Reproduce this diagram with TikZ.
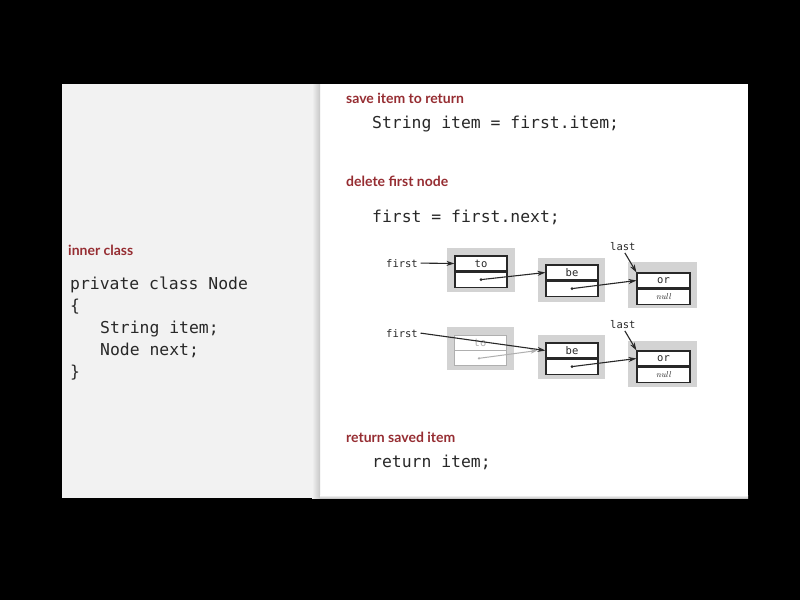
\documentclass[tikz,border=0pt]{standalone}
\usepackage{fontspec}
\setmonofont{DejaVu Sans Mono}
\newfontfamily\headfont{Lato}
\usetikzlibrary{arrows.meta}
\definecolor{headred}{RGB}{150,45,50}
\definecolor{leftbg}{RGB}{242,242,242}
\definecolor{nodebg}{RGB}{211,211,211}
\definecolor{ink}{RGB}{40,40,40}
\definecolor{faded}{RGB}{175,175,175}
\pgfdeclarelayer{panel}
\pgfdeclarelayer{boxes}
\pgfsetlayers{panel,boxes,main}
\begin{document}
\begin{tikzpicture}[x=1pt,y=-1pt,
  head/.style={anchor=base west,inner sep=0pt,text=headred,font=\headfont\bfseries\fontsize{14}{16}\selectfont},
  code/.style={anchor=base west,inner sep=0pt,text=ink,font=\ttfamily\fontsize{16.4}{20}\selectfont},
  lbl/.style={anchor=base west,inner sep=2.5pt,text=ink,font=\ttfamily\fontsize{10.5}{12}\selectfont},
  cell/.style={draw=ink,line width=1.1pt,fill=white,minimum width=52pt,minimum height=15pt,inner sep=0pt,text=ink,font=\ttfamily\fontsize{10.5}{12}\selectfont},
  fcell/.style={cell,draw=faded,line width=0.8pt,text=faded},
  ptr/.style={draw=ink,line width=1.1pt,-{Stealth[length=8pt,width=5pt]}},
  fptr/.style={draw=faded,line width=1pt,-{Stealth[length=7pt,width=4.5pt]}},
  dotc/.style={fill=ink},
  fdotc/.style={fill=faded},
]
\useasboundingbox (0,0) rectangle (800,600);
\begin{pgfonlayer}{panel}
\fill[black] (0,0) rectangle (800,600);
\fill[leftbg] (62,84) rectangle (320,498);
\fill[white] (320,84) rectangle (748,498);
\shade[left color=leftbg,right color=black!22] (312,84) rectangle (320,498);
\shade[top color=white,bottom color=black!22] (320,495) rectangle (748,498);
\end{pgfonlayer}

% left panel text
\node[head] (hinner) at (68,255) {inner class};
\node[code] (c1) at (70,289) {private class Node};
\node[code] (c2) at (70,311) {\{};
\node[code] (c3) at (100,333) {String item;};
\node[code] (c4) at (100,355) {Node next;};
\node[code] (c5) at (70,377) {\}};

% right panel text
\node[head] (hsave) at (346,103) {save item to return};
\node[code] (s1) at (372,128) {String item = first.item;};
\node[head] (hdel) at (346,186) {delete first node};
\node[code] (s2) at (372,222) {first = first.next;};
\node[head] (hret) at (346,442) {return saved item};
\node[code] (s3) at (372,467) {return item;};

% ---------- row 1 ----------
\node[cell] (i1) at (481,263.5) {to};
\node[cell,anchor=north] (n1) at (i1.south) {};
\node[cell] (i2) at (572,272.5) {be};
\node[cell,anchor=north] (n2) at (i2.south) {};
\node[cell,minimum width=53pt] (i3) at (663.5,280.5) {or};
\node[cell,minimum width=53pt,anchor=north] (n3) at (i3.south) {\rmfamily\itshape\fontsize{8.5}{10}\selectfont null};
\begin{pgfonlayer}{boxes}
\fill[nodebg] ([shift={(-7,-7)}]i1.north west) rectangle ([shift={(7,4)}]n1.south east);
\fill[nodebg] ([shift={(-7,-6)}]i2.north west) rectangle ([shift={(6,5)}]n2.south east);
\fill[nodebg] ([shift={(-8,-10)}]i3.north west) rectangle ([shift={(6,3)}]n3.south east);
\end{pgfonlayer}
\node[lbl] (f1) at (383.5,267) {first};
\node[lbl] (l1) at (607.5,250) {last};
\coordinate (d1) at (n1.center);
\coordinate (d2) at (n2.center);
\fill[dotc] (d1) circle (1.5);
\fill[dotc] (d2) circle (1.5);
\draw[ptr] (f1.east) -- (i1.west);
\draw[ptr] (d1) -- (i2.west);
\draw[ptr] (d2) -- (i3.west);
\draw[ptr] ([xshift=2pt]l1.south) -- (i3.north west);

% ---------- row 2 ----------
\node[fcell] (i4) at (480,342.5) {to};
\node[fcell,anchor=north] (n4) at (i4.south) {};
\node[cell] (i5) at (572,350.5) {be};
\node[cell,anchor=north] (n5) at (i5.south) {};
\node[cell,minimum width=53pt] (i6) at (663.5,358.5) {or};
\node[cell,minimum width=53pt,anchor=north] (n6) at (i6.south) {\rmfamily\itshape\fontsize{8.5}{10}\selectfont null};
\begin{pgfonlayer}{boxes}
\fill[nodebg] ([shift={(-7,-8)}]i4.north west) rectangle ([shift={(8,4)}]n4.south east);
\fill[nodebg] ([shift={(-7,-7)}]i5.north west) rectangle ([shift={(6,4)}]n5.south east);
\fill[nodebg] ([shift={(-8,-9)}]i6.north west) rectangle ([shift={(6,4)}]n6.south east);
\end{pgfonlayer}
\node[lbl] (f2) at (383.5,337) {first};
\node[lbl] (l2) at (607.5,328) {last};
\coordinate (d4) at ([xshift=-1pt]n4.center);
\coordinate (d5) at (n5.center);
\fill[fdotc] (d4) circle (1.3);
\fill[dotc] (d5) circle (1.5);
\draw[fptr] (d4) -- ([xshift=-8pt]i5.west);
\draw[ptr] (f2.east) -- (i5.west);
\draw[ptr] (d5) -- (i6.west);
\draw[ptr] ([xshift=2pt]l2.south) -- (i6.north west);

\end{tikzpicture}
\end{document}
